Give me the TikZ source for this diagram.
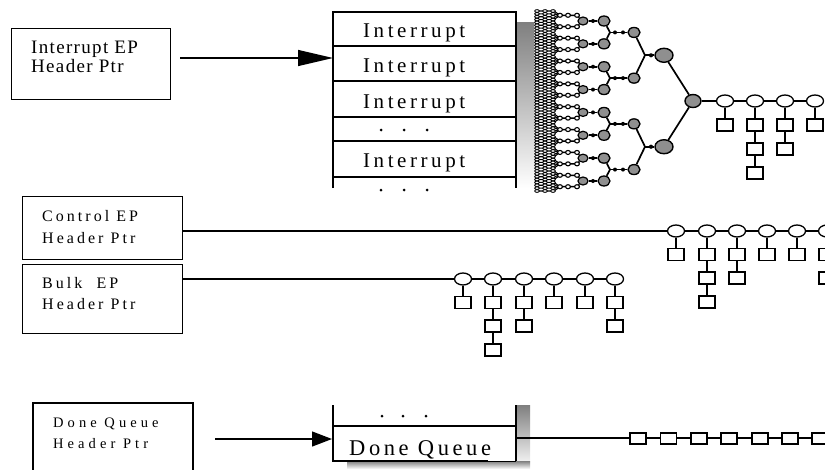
\documentclass[tikz,border=0pt]{standalone}
\usepackage{fontspec}
\setmainfont{Liberation Serif}
\newfontfamily\fIEP[LetterSpace=7]{Liberation Serif}
\newfontfamily\fRow[LetterSpace=17]{Liberation Serif}
\newfontfamily\fCB[LetterSpace=19]{Liberation Serif}
\newfontfamily\fDQ[LetterSpace=28]{Liberation Serif}
\newfontfamily\fDQS[LetterSpace=16]{Liberation Serif}
\usetikzlibrary{arrows.meta,shapes.geometric}
\definecolor{shade}{gray}{0.56}
\tikzset{
  hdr/.style={draw, line width=1.3pt, inner sep=0pt},
  txt/.style={inner sep=0pt, anchor=base west},
  tl/.style={line width=1.7pt},
  cl/.style={line width=1.4pt},
  cnode/.style={ellipse, draw, fill=white, line width=1.3pt, minimum width=17pt, minimum height=12pt, inner sep=0pt},
  sqnode/.style={rectangle, draw, fill=white, line width=1.5pt, minimum width=16pt, minimum height=12pt, inner sep=0pt},
  dqsq/.style={rectangle, draw, fill=white, line width=1.5pt, minimum width=16pt, minimum height=11pt, inner sep=0pt},
  groot/.style={ellipse, draw, fill=shade, line width=1.4pt, minimum width=16pt, minimum height=13pt, inner sep=0pt},
  gbig/.style={ellipse, draw, fill=shade, line width=1.4pt, minimum width=18pt, minimum height=14pt, inner sep=0pt},
  gmid/.style={ellipse, draw, fill=shade, line width=1.3pt, minimum width=12pt, minimum height=10pt, inner sep=0pt},
  gsmall/.style={ellipse, draw, fill=shade, line width=1.2pt, minimum width=10pt, minimum height=8pt, inner sep=0pt},
  dotw/.style={draw=black, fill=white, line width=1.1pt},
  leafdot/.style={draw=black, fill=white, line width=0.9pt},
  bigarrow/.style={line width=1.3pt, -{Triangle[length=35pt,width=16pt]}},
  smallarrow/.style={line width=1.3pt, -{Triangle[length=20pt,width=15pt]}},
  rowline/.style={line width=1.4pt},
}
\begin{document}
\begin{tikzpicture}[x=1pt,y=-1pt]
\useasboundingbox (0,0) rectangle (825,469);

% ---------- Interrupt EP header ----------
\node[hdr, minimum width=159pt, minimum height=71pt, anchor=north west] (ieb) at (11,28) {};
\node[txt] (ieb1) at (31,53) {\fIEP\fontsize{19}{19}\selectfont Interrupt EP};
\node[txt] (ieb2) at (31,72) {\fIEP\fontsize{19}{19}\selectfont Header Ptr};
\coordinate (ia0) at (180,58);

% ---------- Interrupt stack ----------
\fill[shade] (516,22) rectangle (534,188);
\coordinate (sTL) at (333,12);
\coordinate (sTR) at (516,12);
\coordinate (sBL) at (333,188);
\coordinate (sBR) at (516,188);
\draw[rowline] (sBL) -- (sTL) -- (sTR) -- (sBR);
\foreach \yy in {46,81,117,141,177}{
  \draw[rowline] (333,\yy) -- (516,\yy);
}
\foreach \yy [count=\i] in {37,72.5,108,167.5}{
  \node[txt] (irow\i) at (363,\yy) {\fRow\fontsize{21}{21}\selectfont Interrupt};
}
\foreach \yy in {130,190}{
  \foreach \xx in {381,404,427}{\fill (\xx,\yy) circle (1.5);}
}
\coordinate (ia1) at (333,58);
\draw[bigarrow] (ia0) -- (ia1);

% ---------- Interrupt tree ----------
\node[groot] (t1) at (693,101) {};
\foreach \a in {0,1}{
  \pgfmathsetmacro\yy{55.29+\a*91.43}
  \node[gbig] (t2-\a) at (664,\yy) {};
  \draw[tl] (t1) -- (t2-\a);
  \coordinate (j2-\a) at (645,\yy);
  \draw[tl] (t2-\a) -- (j2-\a);
  \fill (651,\yy) circle (2.1);
}
\foreach \m in {0,...,3}{
  \pgfmathsetmacro\yy{32.43+\m*45.714}
  \pgfmathtruncatemacro\p{div(\m,2)}
  \node[gmid] (t3-\m) at (634,\yy) {};
  \draw[tl] (j2-\p) -- (t3-\m);
  \coordinate (j3-\m) at (610,\yy);
  \draw[tl] (t3-\m) -- (j3-\m);
  \fill (623,\yy) circle (2);
  \fill (615,\yy) circle (2);
}
\foreach \k in {0,...,7}{
  \pgfmathsetmacro\yy{21+\k*22.857}
  \pgfmathtruncatemacro\p{div(\k,2)}
  \node[gmid] (t4-\k) at (604,\yy) {};
  \draw[tl] (j3-\p) -- (t4-\k);
  \node[gsmall] (t5-\k) at (583,\yy) {};
  \draw[tl] (t4-\k) -- (t5-\k);
  \fill (593,\yy) circle (2);
  \foreach \s in {-1,1}{
    \pgfmathsetmacro\ys{\yy+\s*5.714}
    \draw[line width=1.5pt] (t5-\k) -- (577,\ys) -- (560,\ys);
    \foreach \v in {-4.286,-1.429,1.429,4.286}{
      \pgfmathsetmacro\yu{\ys+\v}
      \draw[line width=1.1pt] (560,\ys) -- (554,\yu) -- (535,\yu);
    }
    \foreach \v in {-4.286,-1.429,1.429,4.286}{
      \pgfmathsetmacro\yu{\ys+\v}
      \foreach \xx in {553,545,537}{
        \filldraw[leafdot] (\xx,\yu) ellipse [x radius=2.3, y radius=1.35];
      }
    }
    \foreach \xx in {577,568,560}{\filldraw[dotw] (\xx,\ys) ellipse [x radius=2.4, y radius=2];}
  }
}
% interrupt chain
\foreach \x/\n [count=\i] in {725/1,755/3,785/2,815/1}{
  \node[cnode] (ic\i-0) at (\x,101) {};
  \foreach \k in {1,...,\n}{
    \pgfmathtruncatemacro\km{\k-1}
    \node[sqnode] (ic\i-\k) at (\x,{101+24*\k}) {};
    \draw[cl] (ic\i-\km) -- (ic\i-\k);
  }
}
\draw[cl] (t1) -- (ic1-0);
\foreach \i/\j in {1/2,2/3,3/4}{\draw[cl] (ic\i-0) -- (ic\j-0);}

% ---------- Control EP ----------
\node[hdr, minimum width=160pt, minimum height=63pt, anchor=north west] (ceb) at (22,196) {};
\node[txt] (ceb1) at (42,221) {\fCB\fontsize{16}{16}\selectfont Control EP};
\node[txt] (ceb2) at (42,243) {\fCB\fontsize{16}{16}\selectfont Header Ptr};
\foreach \x/\n [count=\i] in {676/1,707/3,737/2,767/1,797/1,827/2}{
  \node[cnode] (cc\i-0) at (\x,231) {};
  \foreach \k in {1,...,\n}{
    \pgfmathtruncatemacro\km{\k-1}
    \node[sqnode] (cc\i-\k) at (\x,{231+23.6*\k}) {};
    \draw[cl] (cc\i-\km) -- (cc\i-\k);
  }
}
\draw[cl] (ceb.east |- cc1-0) -- (cc1-0);
\foreach \i/\j in {1/2,2/3,3/4,4/5,5/6}{\draw[cl] (cc\i-0) -- (cc\j-0);}

% ---------- Bulk EP ----------
\node[hdr, minimum width=160pt, minimum height=69pt, anchor=north west] (beb) at (22,264) {};
\node[txt] (beb1) at (42,288) {\fCB\fontsize{16}{16}\selectfont Bulk\ \ EP};
\node[txt] (beb2) at (42,309) {\fCB\fontsize{16}{16}\selectfont Header Ptr};
\foreach \x/\n [count=\i] in {463/1,493/3,524/2,554/1,585/1,615/2}{
  \node[cnode] (bc\i-0) at (\x,279) {};
  \foreach \k in {1,...,\n}{
    \pgfmathtruncatemacro\km{\k-1}
    \node[sqnode] (bc\i-\k) at (\x,{279+23.6*\k}) {};
    \draw[cl] (bc\i-\km) -- (bc\i-\k);
  }
}
\draw[cl] (beb.east |- bc1-0) -- (bc1-0);
\foreach \i/\j in {1/2,2/3,3/4,4/5,5/6}{\draw[cl] (bc\i-0) -- (bc\j-0);}

% ---------- Done Queue ----------
\coordinate (dbBL) at (33,470);
\coordinate (dbTL) at (33,403);
\coordinate (dbTR) at (193,403);
\coordinate (dbBR) at (193,470);
\draw[line width=1.3pt] (dbBL) -- (dbTL) -- (dbTR) -- (dbBR);
\node[txt] (dqb1) at (53,427) {\fDQ\fontsize{14.5}{14.5}\selectfont Done Queue};
\node[txt] (dqb2) at (53,448) {\fDQ\fontsize{14.5}{14.5}\selectfont Header Ptr};
\coordinate (da0) at (215,439);
\coordinate (da1) at (332,439);
\draw[smallarrow] (da0) -- (da1);

\fill[shade] (516,405) rectangle (530,469);
\fill[shade] (347,461) rectangle (530,469);
\draw[rowline] (333,405) -- (333,461) -- (488,461);
\draw[line width=0.8pt] (488,461) -- (516,461);
\draw[rowline] (516,405) -- (516,461);
\draw[rowline] (333,426) -- (516,426);
\foreach \xx in {382,403,426}{\fill (\xx,416) circle (1.5);}
\node[txt] (dqs) at (349,455) {\fDQS\fontsize{22.5}{22.5}\selectfont Done Queue};
\coordinate (dq0) at (516,438);
\coordinate (dq1) at (826,438);
\draw[cl] (dq0) -- (dq1);
\foreach \xx [count=\i] in {638,668.5,699,729,760,790,820}{
  \node[dqsq] (dsq\i) at (\xx,438.5) {};
}
\end{tikzpicture}
\end{document}
